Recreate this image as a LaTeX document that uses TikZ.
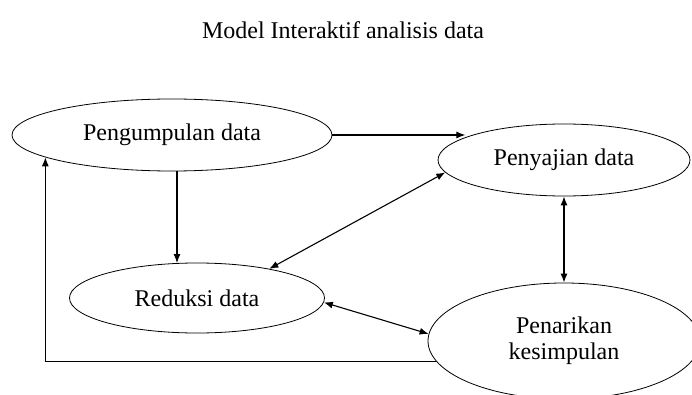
\documentclass[tikz,border=0pt]{standalone}
\usepackage{fontspec}
\setmainfont{Liberation Serif}
\usetikzlibrary{shapes.geometric,arrows.meta}
\begin{document}
\begin{tikzpicture}[x=1pt,y=1pt,
  oval/.style={draw,ellipse,line width=0.8pt,inner sep=0pt,font=\fontsize{24}{26}\selectfont,align=center},
  conn/.style={line width=1.1pt,-{Latex[length=9pt,width=7pt]}},
  bconn/.style={line width=1.1pt,{Latex[length=9pt,width=7pt]}-{Latex[length=9pt,width=7pt]}}]
\useasboundingbox (0,0) rectangle (692,394);
\node[font=\fontsize{24}{26}\selectfont] (title) at (343,364) {Model Interaktif analisis data};
\node[oval,minimum width=320pt,minimum height=72pt] (pum) at (172,259) {Pengumpulan data};
\node[oval,minimum width=252pt,minimum height=72pt] (pnj) at (564,234) {Penyajian data};
\node[oval,minimum width=255pt,minimum height=70pt] (red) at (197,96) {Reduksi data};
\node[oval,minimum width=272pt,minimum height=116pt] (ptk) at (564,53) {Penarikan\\kesimpulan};
\draw[conn] (pum.east) -- (pum.east -| pnj.167);
\draw[conn] (pum.south -| 177,0) -- (177,131);
\draw[bconn] (pnj.186) -- (red.22);
\draw[bconn] (pnj.south) -- (ptk.north);
\draw[bconn] (red.358) -- (ptk.177);
\draw[conn] (ptk.189) -| (pum.190);
\end{tikzpicture}
\end{document}
